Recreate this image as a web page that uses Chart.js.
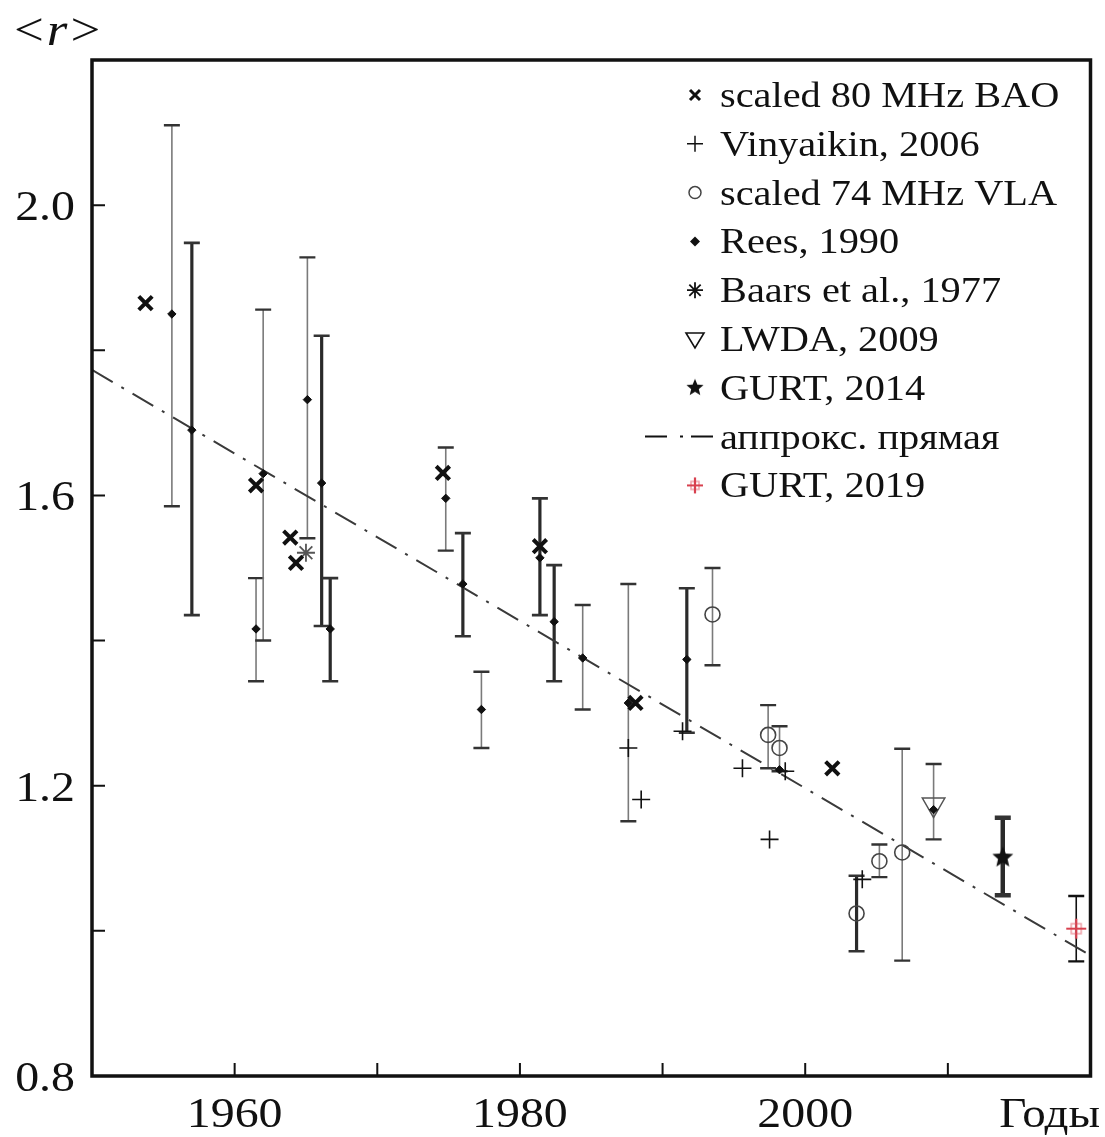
<!DOCTYPE html>
<html>
<head>
<meta charset="utf-8">
<script src="https://cdn.jsdelivr.net/npm/chart.js@4.4.1/dist/chart.umd.min.js"></script>
<style>
  html, body { margin: 0; padding: 0; background: #fff; }
  #wrap { width: 1105px; height: 1137px; position: relative; }
</style>
</head>
<body>
<div id="wrap"><canvas id="chart"></canvas></div>
<script>
// ---- data ----
// scaled 80 MHz BAO
const baoYears  = [1953.75, 1961.5, 1963.9, 1964.3, 1974.6, 1981.4, 1988.1, 2001.9];
const baoValues = [1.865, 1.614, 1.542, 1.507, 1.631, 1.530, 1.314, 1.224];

// Vinyaikin, 2006
const vinYears  = [1987.6, 1988.5, 1991.4, 1995.6, 1997.5, 1998.6, 2004.0];
const vinValues = [1.252, 1.181, 1.275, 1.224, 1.126, 1.220, 1.071];

// scaled 74 MHz VLA
const vlaYears  = [1993.5, 1997.4, 1998.2, 2003.6, 2005.2, 2006.8];
const vlaValues = [1.436, 1.270, 1.252, 1.024, 1.096, 1.108];
const vlaLow    = [1.366, 1.224, 1.220, 0.972, 1.074, 0.959];
const vlaHigh   = [1.500, 1.311, 1.282, 1.076, 1.119, 1.251];

// Rees, 1990
const reesYears  = [1955.6, 1957.0, 1961.5, 1962.0, 1965.1, 1966.1, 1966.7, 1974.8, 1976.0, 1977.3, 1981.4, 1982.4, 1984.4, 1987.6, 1991.7, 1998.2, 2009.0];
const reesValues = [1.850, 1.690, 1.416, 1.630, 1.732, 1.617, 1.416, 1.596, 1.478, 1.305, 1.514, 1.426, 1.376, 1.314, 1.374, 1.222, 1.167];
const reesLow    = [1.585, 1.435, 1.344, 1.400, 1.541, 1.420, 1.344, 1.524, 1.406, 1.252, 1.435, 1.344, 1.305, 1.151, 1.273, null, null];
const reesHigh   = [2.110, 1.948, 1.486, 1.856, 1.928, 1.820, 1.486, 1.666, 1.548, 1.357, 1.596, 1.504, 1.449, 1.478, 1.472, null, null];

// Baars et al., 1977
const baarsYears  = [1965.0];
const baarsValues = [1.521];

// LWDA, 2009
const lwdaYears  = [2009.0];
const lwdaValues = [1.174];
const lwdaLow    = [1.126];
const lwdaHigh   = [1.230];

// GURT, 2014
const gurt14Years  = [2013.85];
const gurt14Values = [1.101];
const gurt14Low    = [1.049];
const gurt14High   = [1.156];

// approximating straight line
const fitYears  = [1950, 2020];
const fitValues = [1.773, 0.966];

// GURT, 2019
const gurt19Years  = [2019.0];
const gurt19Values = [1.003];
const gurt19Low    = [0.958];
const gurt19High   = [1.048];

// axes
const xTickValues = [1960, 1970, 1980, 1990, 2000, 2010];
const xTickLabels = ['1960', '', '1980', '', '2000', ''];
const yTickValues = [1.0, 1.2, 1.4, 1.6, 1.8, 2.0];
const yTickLabels = ['0.8', '1.2', '1.6', '2.0'];
const yLabelValues = [0.8, 1.2, 1.6, 2.0];

const legendLabels = [
    'scaled 80 MHz BAO',
    'Vinyaikin, 2006',
    'scaled 74 MHz VLA',
    'Rees, 1990',
    'Baars et al., 1977',
    'LWDA, 2009',
    'GURT, 2014',
    '\u0430\u043f\u043f\u0440\u043e\u043a\u0441. \u043f\u0440\u044f\u043c\u0430\u044f',
    'GURT, 2019'
];

// error bars drawn heavier in the figure (indices into the series)
const reesHeavy = [1, 5, 6, 8, 10, 11, 14];

const serif = '"Liberation Serif", "DejaVu Serif", "Times New Roman", serif';
const RED = '#d8414f';

function toPoints(xs, ys) {
    return xs.map((x, i) => ({ x: x, y: ys[i] }));
}

// five point star marker
function makeStar(outer, inner) {
    const c = document.createElement('canvas');
    const s = Math.ceil(outer * 2 + 4);
    c.width = s; c.height = s;
    const g = c.getContext('2d');
    g.beginPath();
    for (let i = 0; i < 10; i++) {
        const r = i % 2 === 0 ? outer : inner;
        const a = -Math.PI / 2 + i * Math.PI / 5;
        const px = s / 2 + r * Math.cos(a), py = s / 2 + r * Math.sin(a);
        if (i === 0) g.moveTo(px, py); else g.lineTo(px, py);
    }
    g.closePath();
    g.fillStyle = '#111';
    g.fill();
    return c;
}

// red cross with square, GURT 2019
function makeRedCross(arm, box) {
    const c = document.createElement('canvas');
    const s = arm * 2 + 4;
    c.width = s; c.height = s;
    const g = c.getContext('2d');
    const m = s / 2;
    g.strokeStyle = '#eea0a8';
    g.lineWidth = 1.5;
    g.strokeRect(m - box, m - box, box * 2, box * 2);
    g.strokeStyle = RED;
    g.lineWidth = 2.2;
    g.beginPath();
    g.moveTo(m - arm, m); g.lineTo(m + arm, m);
    g.moveTo(m, m - arm); g.lineTo(m, m + arm);
    g.stroke();
    return c;
}

const starImg = makeStar(11, 5);
const redImg = makeRedCross(10, 5);

function stretchedText(ctx, text, x, y, size, align, sx, style) {
    ctx.save();
    ctx.font = (style ? style + ' ' : '') + size + 'px ' + serif;
    ctx.textAlign = align;
    ctx.textBaseline = 'alphabetic';
    ctx.fillStyle = '#111';
    ctx.translate(x, y);
    ctx.scale(sx, 1);
    ctx.fillText(text, 0, 0);
    const w = ctx.measureText(text).width * sx;
    ctx.restore();
    return w;
}

// Error bars through the scales
const errorBars = {
    id: 'errorBars',
    beforeDatasetsDraw(chart) {
        const { ctx, scales: { x, y } } = chart;
        chart.data.datasets.forEach(ds => {
            if (!ds.low) return;
            ds.data.forEach((pt, i) => {
                if (ds.low[i] == null) return;
                const px = x.getPixelForValue(pt.x);
                const top = y.getPixelForValue(ds.high[i]);
                const bot = y.getPixelForValue(ds.low[i]);
                const heavy = ds.heavy ? ds.heavy.includes(i) : false;
                ctx.save();
                ctx.strokeStyle = heavy ? '#2a2a2a' : (ds.barColor || '#7a7a7a');
                ctx.lineWidth = heavy ? (ds.heavyWidth || 3.2) : 1.6;
                ctx.beginPath();
                ctx.moveTo(px, top); ctx.lineTo(px, bot);
                ctx.stroke();
                ctx.strokeStyle = ds.capColor || '#333';
                ctx.lineWidth = heavy ? (ds.heavyWidth || 2.6) : 2.4;
                ctx.beginPath();
                ctx.moveTo(px - 8, top); ctx.lineTo(px + 8, top);
                ctx.moveTo(px - 8, bot); ctx.lineTo(px + 8, bot);
                ctx.stroke();
                ctx.restore();
            });
        });
    }
};

// legend markers
function legendMarker(ctx, i, cx, cy) {
    ctx.save();
    ctx.strokeStyle = '#111';
    ctx.fillStyle = '#111';
    ctx.beginPath();
    switch (i) {
        case 0:
            ctx.lineWidth = 3;
            ctx.moveTo(cx - 5, cy - 5); ctx.lineTo(cx + 5, cy + 5);
            ctx.moveTo(cx + 5, cy - 5); ctx.lineTo(cx - 5, cy + 5);
            ctx.stroke();
            break;
        case 1:
            ctx.lineWidth = 1.5;
            ctx.moveTo(cx - 8, cy); ctx.lineTo(cx + 8, cy);
            ctx.moveTo(cx, cy - 8); ctx.lineTo(cx, cy + 8);
            ctx.stroke();
            break;
        case 2:
            ctx.lineWidth = 1.5;
            ctx.strokeStyle = '#444';
            ctx.arc(cx, cy, 6, 0, Math.PI * 2);
            ctx.stroke();
            break;
        case 3:
            ctx.moveTo(cx, cy - 5); ctx.lineTo(cx + 5, cy);
            ctx.lineTo(cx, cy + 5); ctx.lineTo(cx - 5, cy);
            ctx.closePath();
            ctx.fill();
            break;
        case 4:
            ctx.lineWidth = 1.8;
            for (let k = 0; k < 4; k++) {
                const a = k * Math.PI / 4;
                ctx.moveTo(cx - 8 * Math.cos(a), cy - 8 * Math.sin(a));
                ctx.lineTo(cx + 8 * Math.cos(a), cy + 8 * Math.sin(a));
            }
            ctx.stroke();
            break;
        case 5:
            ctx.lineWidth = 1.6;
            ctx.moveTo(cx - 9, cy - 6); ctx.lineTo(cx + 9, cy - 6);
            ctx.lineTo(cx, cy + 9); ctx.closePath();
            ctx.stroke();
            break;
        case 6:
            ctx.drawImage(makeStar(9, 4), cx - 11, cy - 11);
            break;
        case 7:
            ctx.lineWidth = 2;
            ctx.moveTo(cx - 50, cy); ctx.lineTo(cx - 28, cy);
            ctx.moveTo(cx - 15, cy); ctx.lineTo(cx - 12, cy);
            ctx.moveTo(cx - 4, cy); ctx.lineTo(cx + 18, cy);
            ctx.stroke();
            break;
        case 8:
            ctx.drawImage(makeRedCross(8, 4), cx - 10, cy - 10);
            break;
    }
    ctx.restore();
}

// frame, inner ticks, tick labels, axis captions, legend
const frame = {
    id: 'frame',
    afterDraw(chart) {
        const { ctx, chartArea: a, scales: { x, y } } = chart;
        ctx.save();
        ctx.strokeStyle = '#111';
        ctx.lineWidth = 2;
        ctx.beginPath();
        xTickValues.forEach(v => {
            const px = x.getPixelForValue(v);
            ctx.moveTo(px, a.bottom); ctx.lineTo(px, a.bottom - 13);
        });
        yTickValues.forEach(v => {
            const py = y.getPixelForValue(v);
            ctx.moveTo(a.left, py); ctx.lineTo(a.left + 13, py);
        });
        ctx.stroke();
        ctx.lineWidth = 3.5;
        ctx.strokeRect(a.left, a.top, a.right - a.left, a.bottom - a.top);
        ctx.restore();

        xTickValues.forEach((v, i) => {
            if (!xTickLabels[i]) return;
            stretchedText(ctx, xTickLabels[i], x.getPixelForValue(v), 1127, 42, 'center', 1.14);
        });
        stretchedText(ctx, '\u0413\u043e\u0434\u044b', 1100, 1127, 42, 'right', 1.12);
        yLabelValues.forEach((v, i) => {
            stretchedText(ctx, yTickLabels[i], 75, y.getPixelForValue(v) + 15, 42, 'right', 1.14);
        });

        // <r>
        let px = 14;
        px += stretchedText(ctx, '<', px, 45, 46, 'left', 1.15);
        px += stretchedText(ctx, 'r', px + 3, 45, 46, 'left', 1.15, 'italic');
        stretchedText(ctx, '>', px + 6, 45, 46, 'left', 1.15);

        // legend
        legendLabels.forEach((label, i) => {
            const base = 107 + i * 48.8;
            legendMarker(ctx, i, 695, base - 12);
            stretchedText(ctx, label, 720, base, 36, 'left', 1.12);
        });
    }
};

new Chart(document.getElementById('chart'), {
    type: 'scatter',
    data: {
        datasets: [
            {
                label: legendLabels[8],
                data: toPoints(gurt19Years, gurt19Values),
                low: gurt19Low, high: gurt19High,
                barColor: '#111', capColor: '#111',
                pointStyle: redImg
            },
            {
                label: legendLabels[0],
                data: toPoints(baoYears, baoValues),
                pointStyle: 'crossRot', radius: 9.5, borderWidth: 4,
                borderColor: '#111', backgroundColor: '#111'
            },
            {
                label: legendLabels[1],
                data: toPoints(vinYears, vinValues),
                pointStyle: 'cross', radius: 9, borderWidth: 1.6,
                borderColor: '#111', backgroundColor: '#111'
            },
            {
                label: legendLabels[3],
                data: toPoints(reesYears, reesValues),
                low: reesLow, high: reesHigh, heavy: reesHeavy,
                pointStyle: 'rectRot', radius: 4.2, borderWidth: 1,
                borderColor: '#111', backgroundColor: '#111'
            },
            {
                label: legendLabels[2],
                data: toPoints(vlaYears, vlaValues),
                low: vlaLow, high: vlaHigh, heavy: [3],
                pointStyle: 'circle', radius: 7.5, borderWidth: 1.6,
                borderColor: '#444', backgroundColor: 'rgba(255,255,255,0)'
            },
            {
                label: legendLabels[4],
                data: toPoints(baarsYears, baarsValues),
                pointStyle: 'star', radius: 9, borderWidth: 1.8,
                borderColor: '#555', backgroundColor: '#555'
            },
            {
                label: legendLabels[5],
                data: toPoints(lwdaYears, lwdaValues),
                low: lwdaLow, high: lwdaHigh,
                pointStyle: 'triangle', rotation: 180, radius: 13, borderWidth: 1.5,
                borderColor: '#555', backgroundColor: 'rgba(255,255,255,0)'
            },
            {
                label: legendLabels[6],
                data: toPoints(gurt14Years, gurt14Values),
                low: gurt14Low, high: gurt14High, heavy: [0], heavyWidth: 4.5,
                pointStyle: starImg
            },
            {
                type: 'line',
                label: legendLabels[7],
                data: toPoints(fitYears, fitValues),
                showLine: true, pointRadius: 0,
                borderColor: '#3a3a3a', borderWidth: 2,
                borderDash: [24, 10, 3, 10]
            }
        ]
    },
    options: {
        responsive: true,
        maintainAspectRatio: false,
        animation: false,
        layout: { padding: { left: 92, right: 8, top: 60, bottom: 61 } },
        scales: {
            x: { type: 'linear', min: 1950, max: 2020, display: false },
            y: { type: 'linear', min: 0.8, max: 2.2, display: false }
        },
        plugins: {
            legend: { display: false },
            tooltip: { enabled: false }
        }
    },
    plugins: [errorBars, frame]
});
</script>
</body>
</html>
